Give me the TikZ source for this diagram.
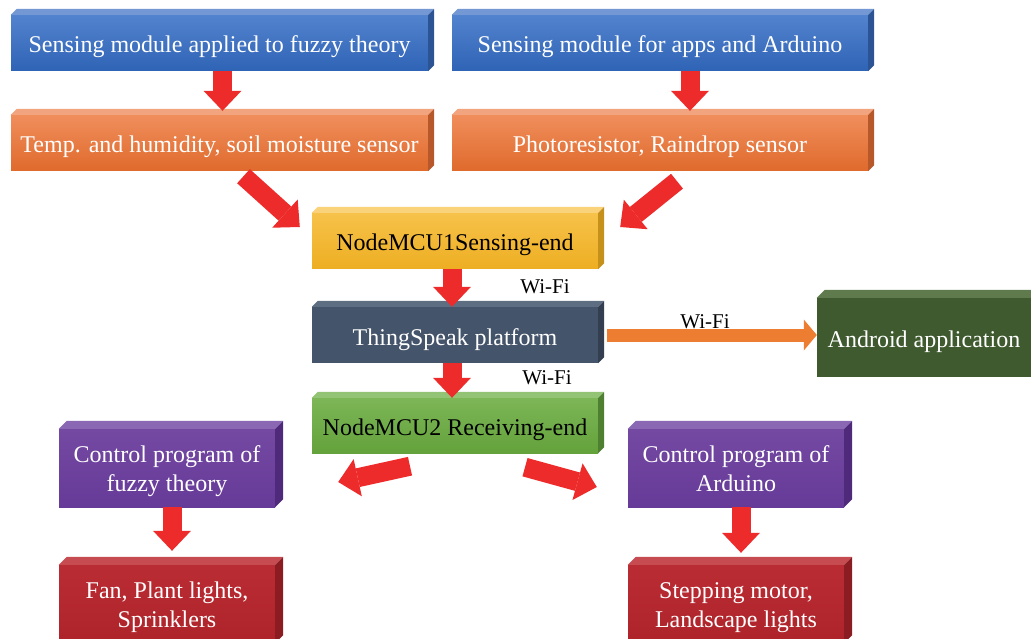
\documentclass[tikz,border=0pt]{standalone}
\usepackage{fontspec}
\setmainfont{Liberation Serif}
\usetikzlibrary{arrows.meta,calc}

\definecolor{blueT}{HTML}{5283CE}
\definecolor{blueB}{HTML}{2F63B5}
\definecolor{blueTop}{HTML}{7398D4}
\definecolor{blueSide}{HTML}{2C5494}
\definecolor{orgT}{HTML}{F08E5C}
\definecolor{orgB}{HTML}{DF6A2C}
\definecolor{orgTop}{HTML}{F2A47E}
\definecolor{orgSide}{HTML}{B6582A}
\definecolor{ylwT}{HTML}{F7C24A}
\definecolor{ylwB}{HTML}{EDAE22}
\definecolor{ylwTop}{HTML}{F9D27A}
\definecolor{ylwSide}{HTML}{C6911A}
\definecolor{slate}{HTML}{44546A}
\definecolor{slateTop}{HTML}{5D6D82}
\definecolor{slateSide}{HTML}{333F50}
\definecolor{grnT}{HTML}{7CB656}
\definecolor{grnB}{HTML}{64A23C}
\definecolor{grnTop}{HTML}{93C374}
\definecolor{grnSide}{HTML}{4F7F31}
\definecolor{andr}{HTML}{3F5A2F}
\definecolor{andrTop}{HTML}{5F7A4D}
\definecolor{prpT}{HTML}{7449A2}
\definecolor{prpB}{HTML}{663A98}
\definecolor{prpTop}{HTML}{8B68B4}
\definecolor{prpSide}{HTML}{4F2A7A}
\definecolor{redT}{HTML}{BA2C33}
\definecolor{redB}{HTML}{AE232A}
\definecolor{redTop}{HTML}{C64C52}
\definecolor{redSide}{HTML}{8B1C22}
\definecolor{arrowred}{HTML}{EE2B2B}
\definecolor{arroworg}{HTML}{ED7D31}

% top and side faces of a box node: name, top colour, side colour, depth
\newcommand\boxdepth[4]{%
  \fill[#2] (#1.north west) -- ++(#4,-#4) -- ($(#1.north east)+(#4,-#4)$) -- (#1.north east) -- cycle;
  \fill[#3] (#1.north east) -- ++(#4,-#4) -- ($(#1.south east)+(#4,-#4)$) -- (#1.south east) -- cycle;}

\tikzset{
  card/.style={minimum height=56pt, inner sep=0pt, text=white, align=center,
    text height=20pt, text depth=0pt, font=\fontsize{24}{29}\selectfont},
  tallcard/.style={card, minimum width=216pt, minimum height=78pt,
    text height=46pt, text depth=0pt},
  redarrow/.style={draw=arrowred, line width=19pt,
    -{Triangle[length=20pt,width=38pt,line width=0pt]}},
  orgarrow/.style={draw=arroworg, line width=13pt,
    -{Triangle[length=13pt,width=31pt,line width=0pt]}},
  wifi/.style={inner sep=0pt, font=\fontsize{21}{24}\selectfont}
}

\begin{document}
\begin{tikzpicture}[x=1pt,y=1pt,yscale=-1]
\useasboundingbox (0,0) rectangle (1031,639);

% sensing modules
\node[card, minimum width=417pt, top color=blueT, bottom color=blueB] (sensA) at (219.5,43) {Sensing module applied to fuzzy theory};
\node[card, minimum width=416pt, top color=blueT, bottom color=blueB] (sensB) at (660,43) {Sensing module for apps and Arduino};
\boxdepth{sensA}{blueTop}{blueSide}{6}
\boxdepth{sensB}{blueTop}{blueSide}{6}

% sensors
\node[card, minimum width=417pt, top color=orgT, bottom color=orgB] (tempA) at (219.5,143) {Temp. and humidity, soil moisture sensor};
\node[card, minimum width=416pt, top color=orgT, bottom color=orgB] (tempB) at (660,143) {Photoresistor, Raindrop sensor};
\boxdepth{tempA}{orgTop}{orgSide}{6}
\boxdepth{tempB}{orgTop}{orgSide}{6}

% NodeMCU and platform
\node[card, minimum width=286pt, text=black, top color=ylwT, bottom color=ylwB] (nodeA) at (455,241) {NodeMCU1Sensing-end};
\node[card, minimum width=286pt, fill=slate] (platf) at (455,335) {ThingSpeak platform};
\node[card, minimum width=286pt, minimum height=55pt, text=black, top color=grnT, bottom color=grnB] (recvA) at (455,425.5) {NodeMCU2 Receiving-end};
\boxdepth{nodeA}{ylwTop}{ylwSide}{6}
\boxdepth{platf}{slateTop}{slateSide}{6}
\boxdepth{recvA}{grnTop}{grnSide}{6}

% Android
\node[card, minimum width=222pt, minimum height=79pt, fill=andr] (andr) at (928,337.5) {\hspace*{-8pt}Android application};
\fill[andrTop] (andr.north west) -- ++(8,-8) -- ($(andr.north east)+(8,-8)$) -- (andr.north east) -- cycle;

% control programs and actuators
\node[tallcard, top color=prpT, bottom color=prpB] (ctrlA) at (167,468) {Control program of\\fuzzy theory};
\node[tallcard, top color=prpT, bottom color=prpB] (ctrlB) at (736,468) {Control program of\\Arduino};
\node[tallcard, top color=redT, bottom color=redB] (outA) at (167,604) {Fan, Plant lights,\\Sprinklers};
\node[tallcard, top color=redT, bottom color=redB] (outB) at (736,604) {Stepping motor,\\Landscape lights};
\boxdepth{ctrlA}{prpTop}{prpSide}{8}
\boxdepth{ctrlB}{prpTop}{prpSide}{8}
\boxdepth{outA}{redTop}{redSide}{8}
\boxdepth{outB}{redTop}{redSide}{8}

% arrows
\draw[redarrow, shorten >=4pt] ([xshift=3pt]sensA.south) -- ([xshift=3pt]tempA.north);
\draw[redarrow, shorten >=4pt] ([xshift=30pt]sensB.south) -- ([xshift=30pt]tempB.north);
\draw[redarrow] ($(tempA.south)+(24,5)$) -- ($(nodeA.west)+(-12,-14)$);
\draw[redarrow] ($(tempB.south)+(17,10)$) -- ($(nodeA.east)+(22,-14)$);
\draw[redarrow] ([xshift=-3pt]nodeA.south) -- ([xshift=-3pt]platf.north);
\draw[redarrow] ([xshift=-3pt]platf.south) -- ([xshift=-3pt]recvA.north);
\draw[orgarrow] ([xshift=9pt]platf.east) -- (platf.east -| andr.west);
\draw[redarrow] ($(recvA.south)+(-45,13)$) -- ($(ctrlA.east)+(63,14)$);
\draw[redarrow] ($(recvA.south)+(70,14)$) -- ($(ctrlB.west)+(-31,19)$);
\draw[redarrow, shorten >=14pt] ([xshift=5pt]ctrlA.south) -- ([xshift=5pt]outA.north);
\draw[redarrow, shorten >=12pt] ([xshift=5pt]ctrlB.south) -- ([xshift=5pt]outB.north);

% Wi-Fi labels
\node[wifi] (wifiA) at (545,287) {Wi-Fi};
\node[wifi] (wifiB) at (547,378) {Wi-Fi};
\node[wifi] (wifiC) at (705,322) {Wi-Fi};

\end{tikzpicture}
\end{document}
